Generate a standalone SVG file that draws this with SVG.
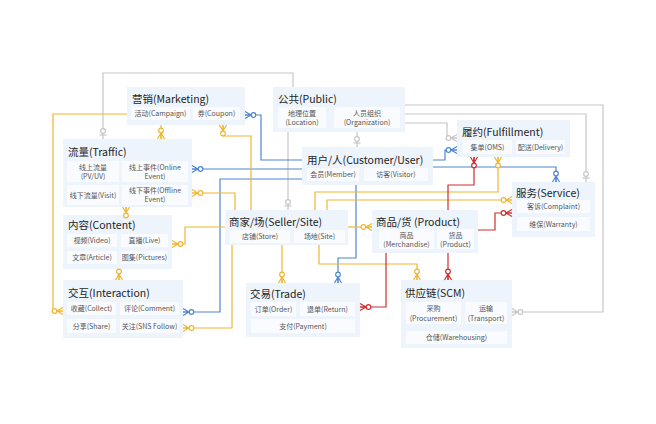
<svg xmlns="http://www.w3.org/2000/svg" width="656" height="424" viewBox="0 0 656 424">
<style>
.node{fill:#edf4fc}
.item{fill:#f9fbfe}
.t{font-family:"Noto Sans CJK SC","Liberation Sans",sans-serif;font-size:10.5px;fill:#1e1e1e}
.i{font-family:"Noto Sans CJK SC","Liberation Sans",sans-serif;font-size:7px;fill:#555;text-anchor:middle}
.c{fill:none;stroke-width:1.2}
.gy{stroke:#c6c6c6}.yl{stroke:#f2b531}.bl{stroke:#4f86cf}.rd{stroke:#cf2e2e}
</style>
<defs>
<marker id="zm-g" viewBox="-13 -6 14 12" markerWidth="14" markerHeight="12" refX="0" refY="0" orient="auto" markerUnits="userSpaceOnUse"><path d="M-6,0L0,-3.5M-6,0L0,3.5M-6,0H0" fill="none" stroke="#c6c6c6" stroke-width="1.2"/><circle cx="-8.5" cy="0" r="2.3" fill="#fff" stroke="#c6c6c6" stroke-width="1.2"/></marker>
<marker id="zo-g" viewBox="-13 -6 14 12" markerWidth="14" markerHeight="12" refX="0" refY="0" orient="auto" markerUnits="userSpaceOnUse"><path d="M-4,-3.5V3.5" fill="none" stroke="#c6c6c6" stroke-width="1.2"/><circle cx="-8" cy="0" r="2.3" fill="#fff" stroke="#c6c6c6" stroke-width="1.2"/></marker>
<marker id="zm-y" viewBox="-13 -6 14 12" markerWidth="14" markerHeight="12" refX="0" refY="0" orient="auto" markerUnits="userSpaceOnUse"><path d="M-6,0L0,-3.5M-6,0L0,3.5M-6,0H0" fill="none" stroke="#f2b531" stroke-width="1.2"/><circle cx="-8.5" cy="0" r="2.3" fill="#fff" stroke="#f2b531" stroke-width="1.2"/></marker>
<marker id="zm-b" viewBox="-13 -6 14 12" markerWidth="14" markerHeight="12" refX="0" refY="0" orient="auto" markerUnits="userSpaceOnUse"><path d="M-6,0L0,-3.5M-6,0L0,3.5M-6,0H0" fill="none" stroke="#4f86cf" stroke-width="1.2"/><circle cx="-8.5" cy="0" r="2.3" fill="#fff" stroke="#4f86cf" stroke-width="1.2"/></marker>
<marker id="zm-r" viewBox="-13 -6 14 12" markerWidth="14" markerHeight="12" refX="0" refY="0" orient="auto" markerUnits="userSpaceOnUse"><path d="M-6,0L0,-3.5M-6,0L0,3.5M-6,0H0" fill="none" stroke="#cf2e2e" stroke-width="1.2"/><circle cx="-8.5" cy="0" r="2.3" fill="#fff" stroke="#cf2e2e" stroke-width="1.2"/></marker>
</defs>
<rect width="656" height="424" fill="#fff"/>

<g id="marketing">
<rect class="node" x="127" y="87" width="118" height="38"/>
<text class="t" x="132" y="103">营销(Marketing)</text>
<rect class="item" x="131" y="107" width="59" height="13"/><text class="i" x="160.5" y="116">活动(Campaign)</text>
<rect class="item" x="193" y="107" width="47" height="13"/><text class="i" x="216.5" y="116">券(Coupon)</text>
</g>
<g id="public">
<rect class="node" x="273" y="87" width="132" height="45"/>
<text class="t" x="278" y="103">公共(Public)</text>
<rect class="item" x="278" y="107" width="48" height="21"/><text class="i" x="302" y="116">地理位置</text><text class="i" x="302" y="125">(Location)</text>
<rect class="item" x="334" y="107" width="66" height="21"/><text class="i" x="367" y="116">人员组织</text><text class="i" x="367" y="125">(Organization)</text>
</g>
<g id="traffic">
<rect class="node" x="63" y="139" width="129" height="68"/>
<text class="t" x="68" y="155.5">流量(Traffic)</text>
<rect class="item" x="67" y="161" width="52" height="21"/><text class="i" x="93" y="170">线上流量</text><text class="i" x="93" y="179">(PV/UV)</text>
<rect class="item" x="122" y="161" width="66" height="21"/><text class="i" x="155" y="170">线上事件(Online</text><text class="i" x="155" y="179">Event)</text>
<rect class="item" x="67" y="185" width="52" height="20"/><text class="i" x="93" y="197.5">线下流量(Visit)</text>
<rect class="item" x="122" y="185" width="66" height="20"/><text class="i" x="155" y="193">线下事件(Offline</text><text class="i" x="155" y="202">Event)</text>
</g>
<g id="content">
<rect class="node" x="63" y="215" width="109" height="54"/>
<text class="t" x="68" y="229">内容(Content)</text>
<rect class="item" x="67" y="234" width="50" height="13"/><text class="i" x="92" y="243">视频(Video)</text>
<rect class="item" x="121" y="234" width="47" height="13"/><text class="i" x="144.5" y="243">直播(Live)</text>
<rect class="item" x="67" y="251" width="50" height="13"/><text class="i" x="92" y="260">文章(Article)</text>
<rect class="item" x="121" y="251" width="47" height="13"/><text class="i" x="144.5" y="260">图集(Pictures)</text>
</g>
<g id="interaction">
<rect class="node" x="63" y="280" width="120" height="58"/>
<text class="t" x="68" y="297">交互(Interaction)</text>
<rect class="item" x="67" y="302" width="49" height="13"/><text class="i" x="91.5" y="311">收藏(Collect)</text>
<rect class="item" x="120" y="302" width="59" height="13"/><text class="i" x="149.5" y="311">评论(Comment)</text>
<rect class="item" x="67" y="319" width="49" height="14"/><text class="i" x="91.5" y="328.5">分享(Share)</text>
<rect class="item" x="120" y="319" width="59" height="14"/><text class="i" x="149.5" y="328.5">关注(SNS Follow)</text>
</g>
<g id="customer">
<rect class="node" x="302" y="147" width="131" height="38"/>
<text class="t" x="307" y="164">用户/人(Customer/User)</text>
<rect class="item" x="307" y="168" width="52" height="13"/><text class="i" x="333" y="177">会员(Member)</text>
<rect class="item" x="364" y="168" width="64" height="13"/><text class="i" x="396" y="177">访客(Visitor)</text>
</g>
<g id="fulfillment">
<rect class="node" x="457" y="120" width="113" height="37"/>
<text class="t" x="462" y="136">履约(Fulfillment)</text>
<rect class="item" x="463" y="140" width="49" height="14"/><text class="i" x="487.5" y="149.5">集单(OMS)</text>
<rect class="item" x="516" y="140" width="49" height="14"/><text class="i" x="540.5" y="149.5">配送(Delivery)</text>
</g>
<g id="service">
<rect class="node" x="512" y="182" width="83" height="55"/>
<text class="t" x="516" y="197">服务(Service)</text>
<rect class="item" x="517" y="200" width="73" height="13"/><text class="i" x="553.5" y="209">客诉(Complaint)</text>
<rect class="item" x="517" y="217" width="73" height="14"/><text class="i" x="553.5" y="226.5">维保(Warranty)</text>
</g>
<g id="seller">
<rect class="node" x="225" y="210" width="123" height="35"/>
<text class="t" x="229" y="226">商家/场(Seller/Site)</text>
<rect class="item" x="230" y="230" width="60" height="13"/><text class="i" x="260" y="239">店铺(Store)</text>
<rect class="item" x="294" y="230" width="51" height="13"/><text class="i" x="319.5" y="239">场地(Site)</text>
</g>
<g id="product">
<rect class="node" x="372" y="210" width="106" height="43"/>
<text class="t" x="376" y="226">商品/货 (Product)</text>
<rect class="item" x="379" y="229" width="55" height="20"/><text class="i" x="406.5" y="237.5">商品</text><text class="i" x="406.5" y="246.5">(Merchandise)</text>
<rect class="item" x="437" y="229" width="37" height="20"/><text class="i" x="455.5" y="237.5">货品</text><text class="i" x="455.5" y="246.5">(Product)</text>
</g>
<g id="trade">
<rect class="node" x="246" y="283" width="114" height="54"/>
<text class="t" x="250" y="298">交易(Trade)</text>
<rect class="item" x="251" y="302" width="45" height="14"/><text class="i" x="273.5" y="311.5">订单(Order)</text>
<rect class="item" x="300" y="302" width="55" height="14"/><text class="i" x="327.5" y="311.5">退单(Return)</text>
<rect class="item" x="251" y="319" width="104" height="14"/><text class="i" x="303" y="328.5">支付(Payment)</text>
</g>
<g id="scm">
<rect class="node" x="401" y="280" width="111" height="68"/>
<text class="t" x="405" y="297">供应链(SCM)</text>
<rect class="item" x="406" y="302" width="55" height="22"/><text class="i" x="433.5" y="311">采购</text><text class="i" x="433.5" y="320.5">(Procurement)</text>
<rect class="item" x="465" y="302" width="42" height="22"/><text class="i" x="486" y="311">运输</text><text class="i" x="486" y="320.5">(Transport)</text>
<rect class="item" x="406" y="331" width="101" height="13"/><text class="i" x="456.5" y="340">仓储(Warehousing)</text>
</g>

<g id="connectors">
<path class="c gy" d="M293,87V73H103V139" marker-end="url(#zo-g)"/>
<path class="c gy" d="M288,132V210" marker-end="url(#zo-g)"/>
<path class="c gy" d="M357,132V147" marker-end="url(#zo-g)"/>
<path class="c gy" d="M405,105H603V312H512" marker-end="url(#zm-g)"/>
<path class="c gy" d="M405,114H586V182" marker-end="url(#zo-g)"/>
<path class="c gy" d="M405,123H447V138H457" marker-end="url(#zm-g)"/>

<path class="c bl" d="M302,160H261V115H245" marker-end="url(#zm-b)"/>
<path class="c bl" d="M302,169H192" marker-end="url(#zm-b)"/>
<path class="c bl" d="M302,179H220V312H183" marker-end="url(#zm-b)"/>
<path class="c bl" d="M356,185V258H338V283" marker-end="url(#zm-b)"/>
<path class="c bl" d="M433,167H556V182" marker-end="url(#zm-b)"/>
<path class="c bl" d="M433,160H445V150H457" marker-end="url(#zm-b)"/>

<path class="c yl" d="M161,125V139" marker-end="url(#zm-y)"/>
<path class="c yl" d="M251,210V136H223V125" marker-end="url(#zm-y)"/>
<path class="c yl" d="M235,210V193H192" marker-end="url(#zm-y)"/>
<path class="c yl" d="M126,215V207" marker-end="url(#zm-y)"/>
<path class="c yl" d="M225,227H185V244H172" marker-end="url(#zm-y)"/>
<path class="c yl" d="M119,269V280" marker-end="url(#zm-y)"/>
<path class="c yl" d="M127,114H53V311H63" marker-end="url(#zm-y)"/>
<path class="c yl" d="M232,245V328H183" marker-end="url(#zm-y)"/>
<path class="c yl" d="M282,245V283" marker-end="url(#zm-y)"/>
<path class="c yl" d="M348,227H372" marker-end="url(#zm-y)"/>
<path class="c yl" d="M319,245V264H417V280" marker-end="url(#zm-y)"/>
<path class="c yl" d="M315,210V192H498V157" marker-end="url(#zm-y)"/>
<path class="c yl" d="M327,210V200H512" marker-end="url(#zm-y)"/>

<path class="c rd" d="M448,210V185H474V157" marker-end="url(#zm-r)"/>
<path class="c rd" d="M478,230H495V213H512" marker-end="url(#zm-r)"/>
<path class="c rd" d="M386,253V307H360" marker-end="url(#zm-r)"/>
<path class="c rd" d="M448,253V280" marker-end="url(#zm-r)"/>
</g>
</svg>
